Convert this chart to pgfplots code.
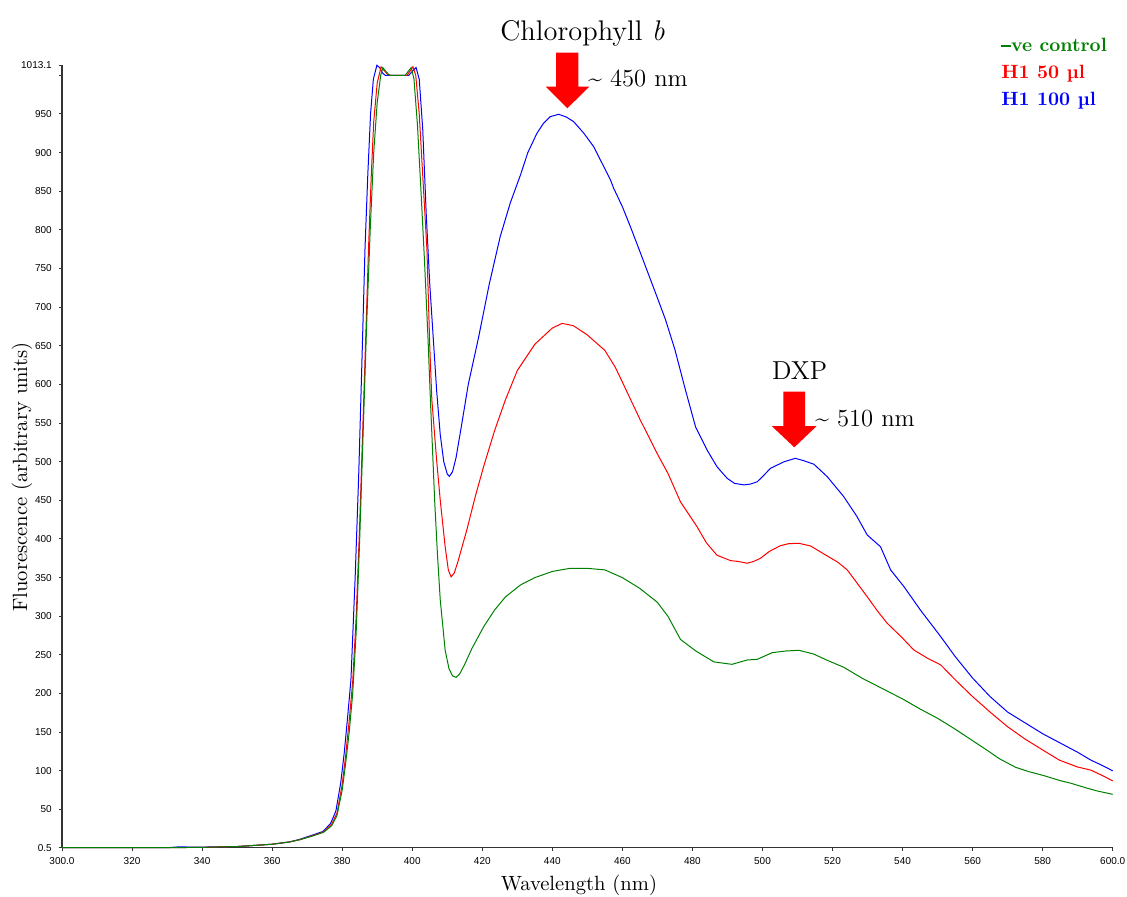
\documentclass[border=0pt]{standalone}
\usepackage{fontspec}
\usepackage{pgfplots}
\pgfplotsset{compat=1.18}
\newfontfamily\ticksfont{Liberation Sans}
\definecolor{cgreen}{RGB}{0,128,0}
\definecolor{cred}{RGB}{255,0,0}
\definecolor{cblue}{RGB}{0,0,255}

\begin{document}
\begin{tikzpicture}
\useasboundingbox (-31pt,-24.15pt) rectangle (532.5pt,423.85pt);
\begin{axis}[
  at={(0pt,0pt)}, anchor=south west,
  scale only axis, width=525.35pt, height=391.25pt,
  xmin=300, xmax=600, ymin=0.5, ymax=1013.1,
  axis x line*=bottom, axis y line*=left,
  axis line style={-, line width=0.6pt, black!80},
  tick align=outside, major tick length=1.6pt,
  tick style={line width=0.5pt, black!80},
  xtick={300,320,340,360,380,400,420,440,460,480,500,520,540,560,580,600},
  xticklabels={300.0,320,340,360,380,400,420,440,460,480,500,520,540,560,580,600.0},
  ytick={0.5,50,100,150,200,250,300,350,400,450,500,550,600,650,700,750,800,850,900,950,1000,1013.1},
  yticklabels={0.5,50,100,150,200,250,300,350,400,450,500,550,600,650,700,750,800,850,900,950,{},1013.1},
  tick label style={font=\ticksfont\fontsize{5}{6}\selectfont},
  /pgf/number format/assume math mode=true,
  xlabel={Wavelength (nm)},
  xlabel style={at={(rel axis cs:0.492,0)}, anchor=base, yshift=-21.15pt, font=\fontsize{10.3}{12}\selectfont},
  clip=false,
]
\addplot[cblue, line width=0.5pt] coordinates {
(300,0.5) (330,0.5) (333,1.5) (340,1.3) (350,2) (360,5) (365,8) (368,11.5) (371.6,17) (374.5,21.5) (376.7,32) (378.2,48) (379.6,85) (380.6,124) (381.5,167) (382.5,218) (383.7,350) (384.7,480) (385.7,640) (386.5,774) (387.3,870) (388.1,950) (388.9,995) (389.9,1013) (390.7,1010) (391.5,1003) (392.3,1000) (399,1000) (400,1005) (401.1,1010) (402,995) (403,930) (404,820) (405,730) (406,660) (407,590) (408,535) (409,500) (410,484) (410.6,481) (411.5,487) (412.5,505) (414,545) (416,600) (418.9,660) (422,730) (425.1,791) (428,835) (430.9,871) (433,900) (435.6,925) (437.5,938) (439.4,946.5) (441.8,949.6) (444,946) (446.1,940) (449,925) (451.8,907.7) (454,888) (456.6,864.6) (457.5,854) (460,830) (462.3,804) (465,772) (468,736) (470,712) (472.3,684) (475,645) (478,593) (480.9,545) (484.2,515) (487,493.6) (489.9,478.6) (492,472) (494.7,470) (496.5,471) (498.5,474) (500.5,483) (502.3,491.5) (506.2,500) (509.4,504.4) (512,501) (514.7,496.7) (518.5,480.6) (523.2,454.8) (527,428.9) (529.9,405.2) (533.7,390) (536.6,359.9) (540.4,338.3) (545.1,308) (550.9,273.6) (555,248) (560,220) (565,196) (570,176) (575,162) (580,148) (585,136) (590,124) (593.7,114) (597,107) (600,100)
};
\addplot[cred, line width=0.5pt] coordinates {
(300,0.5) (330,0.5) (340,1) (350,2) (360,5) (365,8) (368,11) (371.8,16.5) (374.7,21) (377,31) (378.5,45) (380,82) (381,120) (382,165) (383,215) (384,300) (385,420) (386,560) (387,700) (387.5,774) (388.3,870) (389,940) (390,990) (391.1,1011) (392,1006) (393,1001) (394,1000) (398.5,1000) (399.3,1005) (400.2,1011) (401,1000) (402,950) (403,870) (404.2,774) (405,650) (405.6,580) (407,500) (408,450) (409.4,390) (410.3,360) (411.1,351) (412,356) (413,370) (415.6,412) (418,455) (420.4,494) (423.5,540) (426.6,580) (430,618) (435,652) (440,673) (442.8,679) (446,676) (450,664) (453,652) (455,644) (458,622) (460,603) (465,555) (470,510) (473,485) (476.6,448) (481.3,416) (484,395) (487,379) (490.9,372) (493,371) (495.6,368.6) (497.5,371) (499.4,375) (502,384) (505.1,391.3) (507.5,394) (510.4,394.4) (513.7,391) (518.5,378) (521.5,370) (524.2,360) (527,343) (529.9,325.3) (532.8,307) (535.6,291) (539.5,274) (543.2,256.4) (547,246) (550.9,237) (555,218) (560,196) (565,176) (570,157) (575,141) (580,127) (584.7,114) (589.9,105) (593.7,101) (597,94) (600,87)
};
\addplot[cgreen, line width=0.5pt] coordinates {
(300,0.5) (330,0.5) (340,1) (350,2) (360,5) (365,8) (368,11) (371.8,16) (374.7,20.5) (377,29) (378.5,42) (380,75) (381,110) (382,150) (383,200) (384,280) (385,400) (386,540) (387,680) (388,800) (389,900) (390,965) (391,1000) (391.6,1010) (392.5,1005) (393.5,1000) (398,1000) (399,1006) (399.7,1010) (400.5,995) (401.5,935) (402.5,850) (403.5,760) (404.5,660) (405.1,590) (406.4,450) (407.2,380) (408,321) (409.4,256) (410.5,232) (411.5,223) (412.5,221) (413.5,225) (415,238) (417,258) (420.4,286.5) (423.5,308) (426.6,325) (430.9,340.5) (435,350) (440,358) (445,362) (450,362) (455,360) (460,350) (465,336) (470,318) (473,300) (476.6,270) (481,255) (486.1,241) (491.3,237.8) (495.6,243.4) (498.5,244.3) (502.8,252.9) (506.5,255) (510.4,256) (514.7,251) (518.5,243) (523.2,234) (528.5,219.7) (534,207) (540,193) (545,180) (550,168) (555,154) (560,139) (565,124) (567.5,116) (572.3,104.5) (576,99) (580.4,93.7) (585.1,87.2) (588,84) (592.8,77.4) (595.6,73.9) (600,69.6)
};
\end{axis}
% y label and annotations (positions in pt from the axis origin)
\node[rotate=90, anchor=base, inner sep=0pt, font=\fontsize{10.3}{12}\selectfont] at (-17.5pt,185.35pt) {Fluorescence (arbitrary units)};
\fill[cred] (247pt,397.5pt) -- (258.15pt,397.5pt) -- (258.15pt,380.5pt) -- (263.65pt,380.5pt) -- (252.65pt,369.7pt) -- (241.85pt,380.5pt) -- (247pt,380.5pt) -- cycle;
\fill[cred] (360.65pt,228pt) -- (371.5pt,228pt) -- (371.5pt,210.85pt) -- (377.35pt,210.85pt) -- (366.15pt,200.2pt) -- (354.85pt,210.85pt) -- (360.65pt,210.85pt) -- cycle;
\node[anchor=base west, inner sep=0pt, font=\fontsize{14.2}{16}\selectfont] at (219pt,403.5pt) {Chlorophyll \textit{b}};
\node[anchor=base west, inner sep=0pt, font=\fontsize{12.3}{14}\selectfont] at (263pt,380.85pt) {\~{} 450 nm};
\node[anchor=base west, inner sep=0pt, font=\fontsize{13}{15}\selectfont] at (354.85pt,234.2pt) {DXP};
\node[anchor=base west, inner sep=0pt, font=\fontsize{12.3}{14}\selectfont] at (376.5pt,210.85pt) {\~{} 510 nm};
\node[anchor=base west, inner sep=0pt, font=\bfseries\fontsize{9.6}{11}\selectfont, text=cgreen] at (469.5pt,398pt) {\rule[0.6ex]{0.5em}{0.14ex}ve control};
\node[anchor=base west, inner sep=0pt, font=\bfseries\fontsize{9.6}{11}\selectfont, text=cred] at (469.5pt,384.7pt) {H1 50 µl};
\node[anchor=base west, inner sep=0pt, font=\bfseries\fontsize{9.6}{11}\selectfont, text=cblue] at (469.5pt,371.35pt) {H1 100 µl};
\end{tikzpicture}
\end{document}
